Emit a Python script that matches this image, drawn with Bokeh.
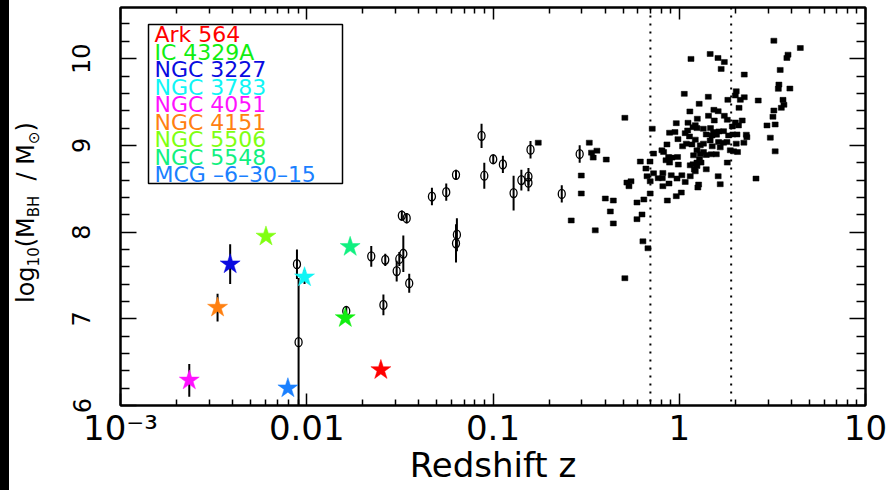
import numpy as np
from bokeh.plotting import figure
from bokeh.models import (ColumnDataSource, FixedTicker, LogAxis, LinearAxis, Span,
                          Label, BoxAnnotation, Div)
from bokeh.layouts import row
from bokeh.embed import file_html
from bokeh.resources import INLINE

FONT = "DejaVu Sans"

# ---------------- data ----------------
# high-z sample (black squares): log10(redshift), log10(M_BH/Msun)
sq_log10_z = [
    0.508, 0.650, 0.166, 0.063, 0.208, 0.242, 0.584, 0.578, 0.225, 0.349,
    0.542, 0.027, 0.156, 0.306, 0.301, 0.328, 0.349, 0.261, 0.424, 0.535,
    0.532, 0.594, 0.107, 0.557, 0.562, 0.548, 0.321, 0.057, -0.292, 0.508,
    0.503, 0.186, 0.209, 0.157, 0.188, 0.242, 0.258, 0.097, 0.047, 0.086,
    0.074, -0.016, 0.095, -0.145, 0.301, 0.285, 0.338, 0.471, 0.515, -0.052,
    -0.023, 0.045, 0.032, 0.055, 0.129, 0.168, 0.184, 0.213, 0.238, 0.176,
    0.145, 0.200, 0.360, 0.363, 0.489, 0.265, 0.288, -0.007, -0.066, 0.018,
    0.038, 0.068, 0.086, 0.347, 0.515, 0.306, 0.292, 0.313, 0.274, -0.093,
    -0.084, -0.138, -0.392, -0.209, -0.157, -0.057, -0.039, -0.009, -0.071, -0.052,
    0.077, 0.113, 0.145, 0.172, 0.199, -0.005, 0.074, 0.095, 0.109, 0.117,
    0.258, -0.179, -0.138, -0.173, -0.156, -0.113, -0.091, -0.088, -0.043, -0.012,
    0.014, 0.059, 0.032, -0.055, -0.088, 0.081, 0.095, 0.145, -0.281, -0.259,
    -0.270, 0.209, 0.220, 0.412, 0.104, 0.100, -0.156, 0.011, -0.016, -0.064,
    -0.397, -0.354, -0.227, -0.190, -0.370, -0.200, -0.227, -0.354, -0.195, -0.168,
    -0.292, -0.757, -0.483, -0.471, -0.442, -0.462, -0.526, -0.526, -0.580, -0.451,
    0.318, 0.310, 0.130, 0.166, 0.211, 0.238, 0.256, 0.095, 0.130, 0.059,
    0.086, 0.113, 0.177, 0.220,
]
sq_log_mbh = [
    10.207, 10.123, 10.054, 9.997, 10.008, 9.962, 10.046, 10.008, 9.882, 9.816,
    9.870, 9.594, 9.560, 9.624, 9.575, 9.525, 9.555, 9.525, 9.517, 9.701,
    9.652, 9.655, 9.479, 9.525, 9.468, 9.433, 9.433, 9.391, 9.318, 9.402,
    9.330, 9.410, 9.394, 9.341, 9.287, 9.341, 9.295, 9.307, 9.261, 9.233,
    9.210, 9.256, 9.199, 9.192, 9.264, 9.218, 9.287, 9.230, 9.241, 9.146,
    9.153, 9.172, 9.141, 9.103, 9.192, 9.199, 9.153, 9.161, 9.164, 9.115,
    9.126, 9.123, 9.123, 9.095, 9.089, 9.115, 9.126, 9.072, 9.011, 8.989,
    9.020, 9.011, 9.066, 9.031, 8.931, 9.020, 8.931, 8.923, 8.943, 8.943,
    8.923, 8.905, 8.836, 8.813, 8.813, 8.866, 8.859, 8.866, 8.828, 8.801,
    8.885, 8.897, 8.889, 8.897, 8.897, 8.778, 8.782, 8.801, 8.836, 8.801,
    8.801, 8.732, 8.678, 8.644, 8.586, 8.621, 8.621, 8.682, 8.655, 8.617,
    8.655, 8.644, 8.578, 8.560, 8.529, 8.721, 8.762, 8.724, 8.571, 8.586,
    8.529, 8.644, 8.552, 8.617, 8.548, 8.514, 8.445, 8.456, 8.414, 8.364,
    8.387, 8.364, 8.341, 8.376, 8.238, 8.203, 8.149, 8.100, 7.893, 7.813,
    7.468, 9.031, 9.031, 8.916, 8.939, 8.859, 8.652, 8.445, 8.134, 8.020,
    9.230, 9.126, 9.020, 9.057, 9.038, 9.031, 9.038, 8.943, 8.923, 8.770,
    8.701, 9.000, 8.989, 8.977,
]

# reverberation-mapped AGN (open circles with error bars)
circ_z = [0.00886, 0.00904, 0.0163, 0.0222, 0.0264, 0.0258, 0.0304, 0.0314, 0.0330, 0.0324,
          0.0344, 0.0355, 0.0470, 0.0561, 0.0633, 0.0640, 0.0633, 0.0868, 0.0898, 0.1003,
          0.113, 0.129, 0.142, 0.155, 0.155, 0.159, 0.234, 0.292]
circ_log_mbh = [7.63, 6.73, 7.09, 7.72, 7.68, 7.16, 7.55, 7.69, 7.75, 8.19,
                8.16, 7.41, 8.41, 8.46, 8.66, 7.97, 7.87, 9.11, 8.65, 8.84,
                8.78, 8.45, 8.60, 8.64, 8.57, 8.95, 8.44, 8.90]
circ_err = [0.17, 0.74, 0.05, 0.12, 0.07, 0.12, 0.12, 0.08, 0.21, 0.06,
            0.06, 0.11, 0.10, 0.10, 0.06, 0.19, 0.22, 0.14, 0.15, 0.05,
            0.10, 0.20, 0.12, 0.10, 0.10, 0.10, 0.10, 0.10]

# highlighted Seyferts (stars)
star_names = ["Ark 564", "IC 4329A", "NGC 3227", "NGC 3783", "NGC 4051",
              "NGC 4151", "NGC 5506", "NGC 5548", "MCG \u20136\u201330\u201315"]
star_z = [0.0250, 0.0161, 0.00388, 0.00973, 0.00234, 0.00332, 0.00604, 0.0171, 0.00792]
star_log_mbh = [6.41, 7.01, 7.63, 7.48, 6.29, 7.13, 7.95, 7.83, 6.20]
star_err = [0.0, 0.0, 0.23, 0.08, 0.19, 0.16, 0.0, 0.0, 0.0]
star_colors = ["#ff0000", "#11ee11", "#0a0ae0", "#11f5f5", "#ff11ff",
               "#ff8011", "#80ff11", "#11f080", "#1a80ff"]

x_ticks = [0.001, 0.01, 0.1, 1, 10]
x_tick_labels = ["10\u207b\u00b3", "0.01", "0.1", "1", "10"]
y_ticks = [6, 7, 8, 9, 10]
z_lines = [0.7, 1.9]
x_title = "Redshift z"
panel_title = "(a)"

# ---------------- figure ----------------
LEFT_W = 45  # width of the left strip (black edge + y title)
p = figure(width=888 - LEFT_W, height=490, x_axis_type="log",
           x_range=(1e-3, 10), y_range=(6, 10.59),
           output_backend="svg", toolbar_location=None,
           min_border_left=120 - LEFT_W, min_border_right=23, min_border_top=7,
           min_border_bottom=85,
           background_fill_color="white", border_fill_color="white")
p.outline_line_color = "black"
p.outline_line_width = 2
p.xgrid.visible = False
p.ygrid.visible = False

x_minor = [k * 10.0 ** d for d in range(-3, 1) for k in range(2, 10)]
y_minor = [round(6 + 0.2 * i, 1) for i in range(1, 23) if i % 5 != 0]

xt = FixedTicker(ticks=x_ticks, minor_ticks=x_minor)
yt = FixedTicker(ticks=y_ticks, minor_ticks=y_minor)


def style_common(ax, major_len, minor_len):
    ax.axis_line_width = 2
    ax.major_tick_in = major_len
    ax.major_tick_out = 0
    ax.minor_tick_in = minor_len
    ax.minor_tick_out = 0
    ax.major_tick_line_width = 1.5
    ax.minor_tick_line_width = 1.5


def hide_labels(ax):
    ax.major_label_text_font_size = "1px"
    ax.major_label_text_alpha = 0.0
    ax.major_label_standoff = 0


xax = p.xaxis[0]
xax.ticker = xt
style_common(xax, 12, 6)
xax.major_label_overrides = dict(zip(x_ticks, x_tick_labels))
xax.major_label_text_font = FONT
xax.major_label_text_font_size = "34px"
xax.major_label_text_color = "black"
xax.major_label_standoff = 2
xax.axis_label = x_title
xax.axis_label_text_font = FONT
xax.axis_label_text_font_size = "34px"
xax.axis_label_text_font_style = "normal"
xax.axis_label_text_color = "black"
xax.axis_label_standoff = -6

yax = p.yaxis[0]
yax.ticker = yt
style_common(yax, 16, 9)
yax.major_label_text_font = FONT
yax.major_label_text_font_size = "24px"
yax.major_label_text_color = "black"
yax.major_label_orientation = "vertical"
yax.major_label_standoff = 30

top_ax = LogAxis(ticker=xt)
style_common(top_ax, 12, 6)
hide_labels(top_ax)
p.add_layout(top_ax, "above")
right_ax = LinearAxis(ticker=yt)
style_common(right_ax, 16, 9)
hide_labels(right_ax)
p.add_layout(right_ax, "right")

for zl in z_lines:
    p.add_layout(Span(location=zl, dimension="height", line_color="black",
                      line_width=2, line_dash="2 6"))

# squares
sq = ColumnDataSource(dict(z=10 ** np.array(sq_log10_z), m=sq_log_mbh))
p.rect(x="z", y="m", width=6, height=5, width_units="screen", height_units="screen",
       source=sq, fill_color="black", line_color="black", line_width=0.5)

# circles with error bars
cm = np.array(circ_log_mbh)
ce = np.array(circ_err)
cs = ColumnDataSource(dict(z=circ_z, m=cm, lo=cm - ce, hi=cm + ce))
p.segment(x0="z", y0="lo", x1="z", y1="hi", source=cs, line_color="black", line_width=2)
p.ellipse(x="z", y="m", width=7, height=9, width_units="screen", height_units="screen",
          source=cs, fill_color=None, line_color="black", line_width=1.3)

# stars
sm = np.array(star_log_mbh)
se = np.array(star_err)
mask = se > 0
ses = ColumnDataSource(dict(z=np.array(star_z)[mask], lo=(sm - se)[mask], hi=(sm + se)[mask]))
p.segment(x0="z", y0="lo", x1="z", y1="hi", source=ses, line_color="black", line_width=2)
ss = ColumnDataSource(dict(z=star_z, m=star_log_mbh, c=star_colors))
p.scatter(x="z", y="m", source=ss, marker="star", size=21, fill_color="c", line_color="c",
          line_width=0.5)

# legend box with coloured names
p.add_layout(BoxAnnotation(left=148 - LEFT_W, right=342 - LEFT_W, top=24, bottom=183,
                           left_units="canvas", right_units="canvas",
                           top_units="canvas", bottom_units="canvas",
                           fill_color=None, line_color="black", line_alpha=1.0,
                           line_width=1.5))
for i, (name, col) in enumerate(zip(star_names, star_colors)):
    p.add_layout(Label(x=154 - LEFT_W, y=34 + 17.5 * i, x_units="canvas", y_units="canvas",
                       text=name, text_color=col, text_font=FONT, text_font_size="22px",
                       text_baseline="alphabetic", text_align="left"))

# left strip: black edge, rotated y-axis title (with subscripts), cut-off panel title
sub = "font-size:15px;vertical-align:-5px;"
ytitle_html = (f"log<span style='{sub}'>10</span>(M<span style='{sub}'>BH</span>"
               f"&nbsp;&nbsp;/&nbsp;M<span style='{sub}'>\u2299</span>)")
left_html = (
    f"<div style='position:relative;width:{LEFT_W}px;height:490px;margin:0;padding:0;'>"
    "<div style='position:absolute;left:0;top:0;width:9px;height:490px;background:#000;'></div>"
    "<div style='position:absolute;left:14px;top:303px;transform:rotate(-90deg);"
    "transform-origin:0 0;white-space:nowrap;font-family:\"DejaVu Sans\";font-size:24px;"
    f"line-height:1;color:#000;'>{ytitle_html}</div>"
    "<div style='position:absolute;left:557px;top:-29px;white-space:nowrap;"
    "font-family:\"DejaVu Sans\";font-size:30px;line-height:1;color:#000;'>"
    f"{panel_title}</div>"
    "</div>")
left = Div(text=left_html, width=LEFT_W, height=490, margin=0,
           styles={"z-index": "5", "overflow": "visible"})
layout = row(left, p, spacing=0)

open("out.html", "w").write(file_html(layout, INLINE))
